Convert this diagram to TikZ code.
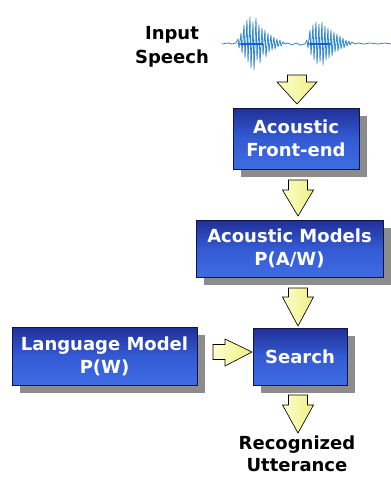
\documentclass[tikz,border=0pt]{standalone}
\usepackage{fontspec}
\setmainfont{DejaVu Sans}
\definecolor{boxedge}{RGB}{15,20,70}
\definecolor{boxtop}{RGB}{32,48,150}
\definecolor{boxmid}{RGB}{52,90,212}
\definecolor{boxbot}{RGB}{62,108,228}
\definecolor{shadowgray}{RGB}{140,140,140}
\definecolor{arrowlight}{RGB}{255,255,205}
\definecolor{arrowdark}{RGB}{238,238,130}
\definecolor{wavecol}{RGB}{50,135,210}
\definecolor{wavecore}{RGB}{20,95,215}
\begin{document}
\begin{tikzpicture}[x=1pt,y=-1pt,
  boxtext/.style={text=white,font=\fontsize{18}{23}\selectfont\bfseries,align=center},
  bluebox/.style={draw=boxedge,line width=0.9pt,
    top color=boxtop,bottom color=boxbot,middle color=boxmid,inner sep=0pt},
  shadowbox/.style={fill=shadowgray,draw=none},
  blockarrow/.style={draw=black,line width=0.6pt,left color=arrowlight,right color=arrowdark,line join=miter},
  plaintext/.style={text=black,font=\fontsize{18}{24}\selectfont\bfseries,align=center,inner sep=0pt},
  outtext/.style={text=black,font=\fontsize{18}{22}\selectfont\bfseries,align=center,inner sep=0pt},
  wave/.style={draw=wavecol,line width=0.8pt,line join=round},
  wavecentre/.style={draw=wavecore,line width=2.4pt,line cap=round}
]
\useasboundingbox (0,0) rectangle (391,477);
\fill[white] (0,0) rectangle (391,477);

% Input speech label
\node[plaintext] (input) at (172,47) {Input\\Speech};

% waveform
\draw[wave] (222,44) -- (228,43) -- (232,44) -- (236,43) -- (238,39) -- (239,48) -- (241,33) -- (242,53) -- (244,25) -- (245,58) -- (247,20) -- (248,62) -- (250,17) -- (251,68) -- (253,22) -- (254,70) -- (256,18) -- (257,60) -- (259,25) -- (260,63) -- (262,28) -- (263,55) -- (265,30) -- (266,57) -- (268,33) -- (269,52) -- (271,35) -- (272,50) -- (274,37) -- (275,49) -- (277,39) -- (278,47) -- (280,40) -- (281,46) -- (283,42) -- (285,44) -- (288,43) -- (292,45) -- (296,43) -- (300,45) -- (305,44) -- (307,40) -- (308,48) -- (310,30) -- (311,55) -- (313,25) -- (314,60) -- (316,22) -- (317,64) -- (319,24) -- (320,62) -- (322,22) -- (323,65) -- (325,26) -- (326,60) -- (328,28) -- (329,58) -- (331,30) -- (332,56) -- (334,32) -- (335,52) -- (337,34) -- (338,51) -- (340,36) -- (341,49) -- (343,38) -- (344,48) -- (346,40) -- (347,46) -- (349,41) -- (350,45) -- (352,42) -- (355,44) -- (358,43) -- (364,44) -- (370,43) -- (378,44) -- (385,43) -- (391,44);
\draw[wavecentre] (241,44) -- (262,44);
\draw[wavecentre] (310,44) -- (330,44);

% boxes with shadows
\fill[shadowbox] (241,116) rectangle (367,177);
\node[bluebox,minimum width=126pt,minimum height=61pt] (front) at (296,138.5) {};
\node[boxtext] (fronttext) at (front.center) {Acoustic\\Front-end};

\fill[shadowbox] (204,228) rectangle (391,285);
\node[bluebox,minimum width=187pt,minimum height=57pt] (am) at (289.5,248.5) {};
\node[boxtext] (amtext) at (am.center) {Acoustic Models\\P(A/W)};

\fill[shadowbox] (261,336) rectangle (355,393);
\node[bluebox,minimum width=94pt,minimum height=57pt] (search) at (300,356.5) {};
\node[boxtext] (searchtext) at (search.center) {Search};

\fill[shadowbox] (20,335) rectangle (205,393);
\node[bluebox,minimum width=185pt,minimum height=58pt] (lm) at (104.5,356) {};
\node[boxtext] (lmtext) at (lm.center) {Language Model\\P(W)};

\node[outtext] (out) at (297,454) {Recognized\\Utterance};

% block arrows (down): top y, head start y, tip y, center x, shaft hw, head hw
\newcommand{\blockdown}[6]{%
  \filldraw[blockarrow] (#4-#5,#1) -- (#4+#5,#1) -- (#4+#5,#2) -- (#4+#6,#2) -- (#4,#3) -- (#4-#6,#2) -- (#4-#5,#2) -- cycle;}
\blockdown{75}{82}{104}{297}{9.5}{20}
\blockdown{180}{190}{216}{298}{9.5}{15.5}
\blockdown{288}{297}{326}{298}{9.5}{15.5}
\blockdown{395}{405}{433}{298}{9.5}{15.5}
% horizontal arrow
\filldraw[blockarrow] (213,344.5) -- (225,344.5) -- (225,339) -- (252,352) -- (225,366) -- (225,359.5) -- (213,359.5) -- cycle;
\end{tikzpicture}
\end{document}
